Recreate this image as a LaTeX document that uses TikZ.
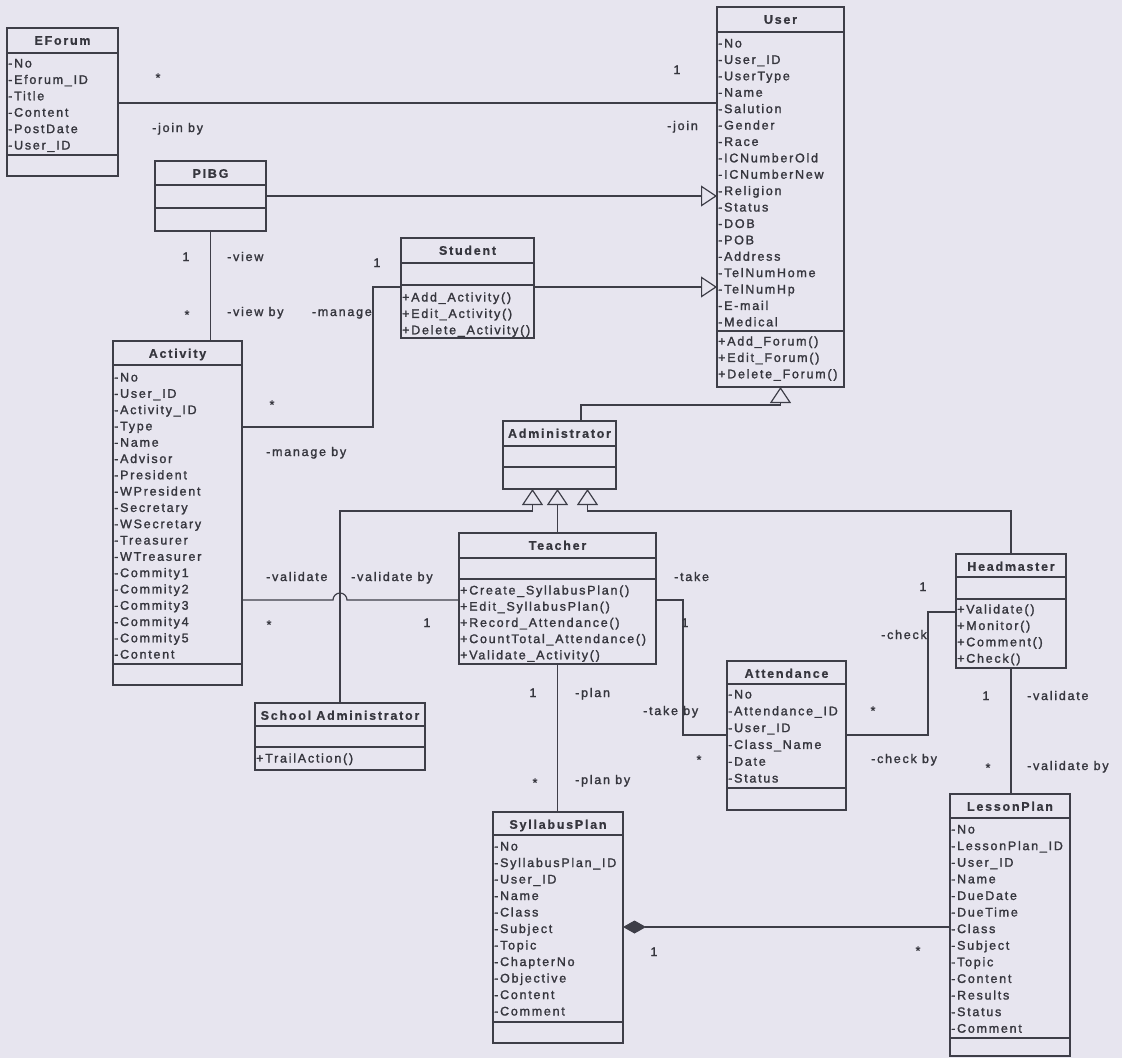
\documentclass[tikz,border=0pt]{standalone}
\usepackage{fontspec}
\newfontfamily\umlfont{Liberation Sans}[LetterSpace=14, FakeBold=1.6]
\newfontfamily\umltitle{Liberation Sans Bold}[LetterSpace=14, FakeBold=0.6]
\usetikzlibrary{arrows.meta}
\definecolor{paper}{RGB}{231,229,239}
\definecolor{ink}{RGB}{54,54,62}
\definecolor{wire}{RGB}{62,62,72}

\tikzset{
  box/.style={draw=wire, line width=1.3pt, inner sep=0pt, outer sep=0pt},
  ttl/.style={font=\umltitle\fontsize{12.5}{14}\selectfont, text=ink, inner sep=0pt, anchor=base},
  row/.style={font=\umlfont\fontsize{12.5}{14}\selectfont, text=ink, inner sep=0pt, anchor=base west},
  lbl/.style={font=\umlfont\fontsize{12.5}{14}\selectfont, text=ink, inner sep=0pt, anchor=base west},
  mult/.style={font=\umlfont\fontsize{12.5}{14}\selectfont, text=ink, inner sep=0pt, anchor=base},
  wireln/.style={draw=wire, line width=1.2pt},
  gen/.style={wireln, -{Triangle[open, length=16pt, width=21pt, line width=1.2pt]}},
  comp/.style={wireln, {Diamond[length=23pt, width=13pt]}-},
}

% class box: name, left, top, right, bottom, title, compartment separators
\newcommand\umlclass[7]{%
  \node[box, anchor=north west, minimum width={#4pt-#2pt}, minimum height={#5pt-#3pt}] (#1) at (#2,#3) {};
  \node[ttl] (#1-title) at ({(#2+#4)/2},{#3+16.8}) {#6};
  \foreach \sepy in {#7} {\draw[wireln] (#2,\sepy) -- (#4,\sepy);}%
}
% compartment rows: name prefix, left, first row centre, pitch, items
\newcommand\umlrows[5]{%
  \foreach \itm [count=\k from 0] in {#5} {\node[row] (#1\k) at ({#2+1},{#3+4.5+#4*\k}) {\itm};}%
}

\begin{document}
\begin{tikzpicture}[x=1pt, y=-1pt]
\useasboundingbox (0,0) rectangle (1122,1058);
\fill[paper] (0,0) rectangle (1122,1058);

% ---------- classes ----------
\umlclass{eforum}{7}{28}{118}{176}{EForum}{53,155}
\umlrows{eforum-a}{7}{63}{16.4}{-No,-Eforum\_ID,-Title,-Content,-PostDate,-User\_ID}

\umlclass{user}{717}{7}{844}{387}{User}{32,331}
\umlrows{user-a}{717}{43}{16.4}{-No,-User\_ID,-UserType,-Name,-Salution,-Gender,-Race,-ICNumberOld,-ICNumberNew,-Religion,-Status,-DOB,-POB,-Address,-TelNumHome,-TelNumHp,-E-mail,-Medical}
\umlrows{user-m}{717}{341}{16.4}{+Add\_Forum(),+Edit\_Forum(),+Delete\_Forum()}

\umlclass{pibg}{155}{161}{266}{231}{PIBG}{185,208}

\umlclass{student}{401}{238}{534}{338}{Student}{263,285}
\umlrows{student-m}{401}{297}{16.4}{+Add\_Activity(),+Edit\_Activity(),+Delete\_Activity()}

\umlclass{activity}{113}{341}{242}{685}{Activity}{365,664}
\umlrows{activity-a}{113}{377}{16.3}{-No,-User\_ID,-Activity\_ID,-Type,-Name,-Advisor,-President,-WPresident,-Secretary,-WSecretary,-Treasurer,-WTreasurer,-Commity1,-Commity2,-Commity3,-Commity4,-Commity5,-Content}

\umlclass{admin}{503}{421}{616}{489}{Administrator}{446,467}

\umlclass{teacher}{459}{533}{656}{664}{Teacher}{558,579}
\umlrows{teacher-m}{459}{590}{16.2}{+Create\_SyllabusPlan(),+Edit\_SyllabusPlan(),+Record\_Attendance(),+CountTotal\_Attendance(),+Validate\_Activity()}

\umlclass{head}{956}{554}{1066}{668}{Headmaster}{577,599}
\umlrows{head-m}{956}{609}{16.4}{+Validate(),+Monitor(),+Comment(),+Check()}

\umlclass{sadmin}{255}{703}{425}{770}{School Administrator}{726,747}
\umlrows{sadmin-m}{255}{758}{16.4}{+TrailAction()}

\umlclass{attend}{727}{661}{846}{810}{Attendance}{684,788}
\umlrows{attend-a}{727}{694}{16.8}{-No,-Attendance\_ID,-User\_ID,-Class\_Name,-Date,-Status}

\umlclass{syllabus}{493}{812}{623}{1043}{SyllabusPlan}{835,1022}
\umlrows{syllabus-a}{493}{846}{16.5}{-No,-SyllabusPlan\_ID,-User\_ID,-Name,-Class,-Subject,-Topic,-ChapterNo,-Objective,-Content,-Comment}

\umlclass{lesson}{950}{794}{1070}{1056}{LessonPlan}{818,1038}
\umlrows{lesson-a}{950}{829}{16.6}{-No,-LessonPlan\_ID,-User\_ID,-Name,-DueDate,-DueTime,-Class,-Subject,-Topic,-Content,-Results,-Status,-Comment}

% ---------- routing points ----------
\coordinate (yEF) at (0,103);
\coordinate (yPI) at (0,196);
\coordinate (yST) at (0,287);
\coordinate (adminUp) at (581,405);
\coordinate (mgA) at (373,427);
\coordinate (mgB) at (373,287);
\coordinate (vl) at (0,600);
\coordinate (hopL) at ([xshift=-7pt]sadmin.north);
\coordinate (tkA) at (683,600);
\coordinate (tkB) at (683,735);
\coordinate (ckA) at (928,735);
\coordinate (ckB) at (928,612);
\coordinate (cp) at (0,927);
\coordinate (gL) at ([xshift=-27pt]admin.south);
\coordinate (gR) at ([xshift=28pt]admin.south);
\coordinate (bus) at (0,511);

% ---------- associations ----------
\draw[wireln] (eforum.east |- yEF) -- (user.west |- yEF);
\draw[wireln] (pibg.south) -- (pibg.south |- activity.north);
\draw[wireln] (activity.east |- mgA) -- (mgA) -- (mgB) -- (student.west |- mgB);
\draw[wireln] (activity.east |- vl) -- (hopL |- vl) arc[start angle=180, end angle=0, radius=7pt] -- (teacher.west |- vl);
\draw[wireln] (teacher.east |- tkA) -- (tkA) -- (tkB) -- (attend.west |- tkB);
\draw[wireln] (attend.east |- ckA) -- (ckA) -- (ckB) -- (head.west |- ckB);
\draw[wireln] (head.south) -- (head.south |- lesson.north);
\draw[wireln] (teacher.south) -- (teacher.south |- syllabus.north);
\draw[comp] (syllabus.east |- cp) -- (lesson.west |- cp);

% ---------- generalizations ----------
\draw[gen] (pibg.east |- yPI) -- (user.west |- yPI);
\draw[gen] (student.east |- yST) -- (user.west |- yST);
\draw[gen] (admin.north -| adminUp) -- (adminUp) -- (adminUp -| user.south) -- (user.south);
\draw[gen] (sadmin.north) -- (sadmin.north |- bus) -- (gL |- bus) -- (gL);
\draw[gen] (teacher.north) -- (teacher.north |- admin.south);
\draw[gen] (head.north) -- (head.north |- bus) -- (gR |- bus) -- (gR);

% ---------- role names and multiplicities ----------
\node[mult] (m1) at (158,82) {*};
\node[lbl] (l1) at (152,132) {-join by};
\node[mult] (m2) at (677,74) {1};
\node[lbl] (l2) at (667,130) {-join};
\node[mult] (m3) at (186,261) {1};
\node[lbl] (l3) at (227,261) {-view};
\node[mult] (m4) at (187,319) {*};
\node[lbl] (l4) at (227,316) {-view by};
\node[lbl, anchor=base east] (l5) at (372,316) {-manage};
\node[mult] (m5) at (377,267) {1};
\node[mult] (m6) at (272,409) {*};
\node[lbl] (l6) at (266,456) {-manage by};
\node[lbl] (l7) at (266,581) {-validate};
\node[lbl] (l8) at (351,581) {-validate by};
\node[mult] (m7) at (269,629) {*};
\node[mult] (m8) at (427,627) {1};
\node[lbl] (l9) at (674,581) {-take};
\node[mult] (m9) at (685,627) {1};
\node[mult] (m10) at (533,697) {1};
\node[lbl] (l10) at (575,697) {-plan};
\node[mult] (m11) at (535,787) {*};
\node[lbl] (l11) at (575,784) {-plan by};
\node[lbl] (l12) at (643,715) {-take by};
\node[mult] (m12) at (699,764) {*};
\node[mult] (m13) at (923,591) {1};
\node[lbl] (l13) at (881,639) {-check};
\node[mult] (m14) at (873,715) {*};
\node[lbl] (l14) at (871,763) {-check by};
\node[mult] (m15) at (986,700) {1};
\node[lbl] (l15) at (1027,700) {-validate};
\node[mult] (m16) at (988,772) {*};
\node[lbl] (l16) at (1027,770) {-validate by};
\node[mult] (m17) at (654,956) {1};
\node[mult] (m18) at (918,955) {*};
\end{tikzpicture}
\end{document}
